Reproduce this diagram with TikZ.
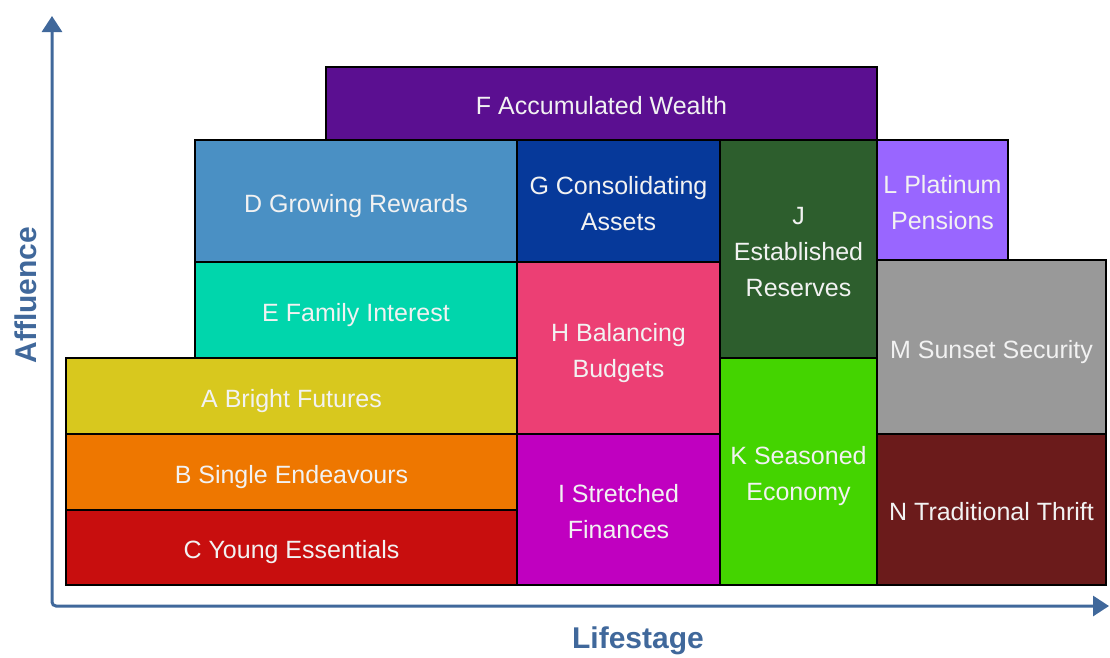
\documentclass[tikz,border=0pt]{standalone}
\usepackage{fontspec}
\setmainfont{Liberation Sans}
\usetikzlibrary{arrows.meta}
\definecolor{cF}{HTML}{5B0F91}
\definecolor{cD}{HTML}{4A90C4}
\definecolor{cG}{HTML}{06399A}
\definecolor{cJ}{HTML}{2D5E2D}
\definecolor{cL}{HTML}{9966FF}
\definecolor{cE}{HTML}{00D6AC}
\definecolor{cH}{HTML}{EC3F74}
\definecolor{cM}{HTML}{999999}
\definecolor{cA}{HTML}{D8C81E}
\definecolor{cK}{HTML}{44D400}
\definecolor{cB}{HTML}{EE7700}
\definecolor{cI}{HTML}{C000C0}
\definecolor{cN}{HTML}{6B1B1B}
\definecolor{cC}{HTML}{C80E0E}
\definecolor{axiscol}{HTML}{40689B}
\definecolor{txt}{HTML}{F2F2F2}
\newcommand\segcell[7]{%
  \node[cell, fill=#6, minimum width={(#4)-(#2)}, minimum height={(#5)-(#3)}]
    (#1) at ({((#2)+(#4))/2},{((#3)+(#5))/2})
    {\raisebox{-4pt}[\height][\depth]{\begin{tabular}{@{}c@{}}#7\end{tabular}}};}
\begin{document}
\begin{tikzpicture}[x=1pt,y=-1pt,
  cell/.style={draw=black, line width=2.6pt, rectangle, inner sep=0pt,
    text=txt, font=\fontsize{25}{36}\selectfont},
  axis/.style={draw=axiscol, line width=3pt, rounded corners=4pt,
    {Triangle[width=20pt,length=16pt]}-{Triangle[width=20pt,length=16pt]}},
  axlabel/.style={text=axiscol, font=\bfseries\fontsize{30}{34}\selectfont, inner sep=0pt}]
\useasboundingbox (0,0) rectangle (1110,657);
\coordinate (Ytip) at (52,16);
\coordinate (O) at (52,606);
\coordinate (Xtip) at (1109,606);
\draw[axis] (Ytip) -- (O) -- (Xtip);
\node[axlabel, rotate=90] (aff) at (26,295) {Affluence};
\node[axlabel] (life) at (638,641) {Lifestage};
\segcell{F}{326}{67}{877}{140}{cF}{F Accumulated Wealth}
\segcell{D}{195}{140}{517}{262}{cD}{D Growing Rewards}
\segcell{G}{517}{140}{720}{262}{cG}{G Consolidating\\Assets}
\segcell{J}{720}{140}{877}{358}{cJ}{J\\Established\\Reserves}
\segcell{L}{877}{140}{1008}{260}{cL}{L Platinum\\Pensions}
\segcell{E}{195}{262}{517}{358}{cE}{E Family Interest}
\segcell{H}{517}{262}{720}{434}{cH}{H Balancing\\Budgets}
\segcell{M}{877}{260}{1106}{434}{cM}{M Sunset Security}
\segcell{A}{66}{358}{517}{434}{cA}{A Bright Futures}
\segcell{K}{720}{358}{877}{585}{cK}{K Seasoned\\Economy}
\segcell{B}{66}{434}{517}{510}{cB}{B Single Endeavours}
\segcell{I}{517}{434}{720}{585}{cI}{I Stretched\\Finances}
\segcell{N}{877}{434}{1106}{585}{cN}{N Traditional Thrift}
\segcell{C}{66}{510}{517}{585}{cC}{C Young Essentials}
\end{tikzpicture}
\end{document}
